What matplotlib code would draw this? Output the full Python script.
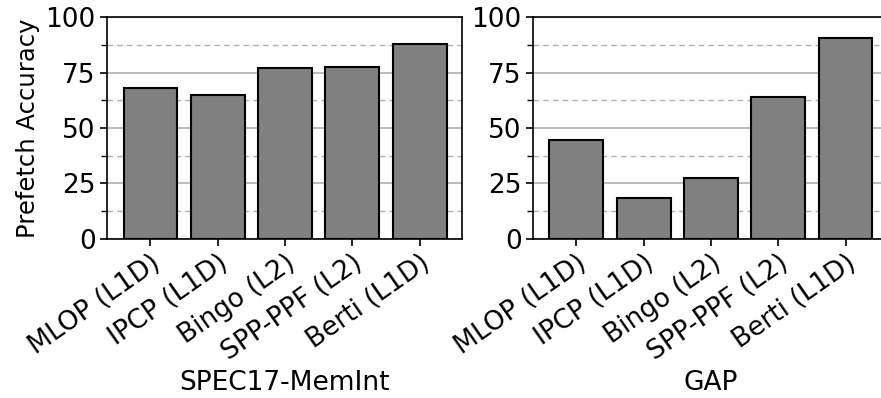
import matplotlib
matplotlib.use("Agg")
import matplotlib.pyplot as plt
from matplotlib.ticker import MultipleLocator

# prefetcher accuracy per suite
prefetchers = ["MLOP (L1D)", "IPCP (L1D)", "Bingo (L2)", "SPP-PPF (L2)", "Berti (L1D)"]
spec_accuracy = [67.9, 64.8, 77.0, 77.4, 87.9]
gap_accuracy = [44.7, 18.5, 27.6, 64.0, 90.6]
suites = ["SPEC17-MemInt", "GAP"]

plt.rcParams["font.family"] = "DejaVu Sans"
plt.rcParams["font.size"] = 19

fig = plt.figure(figsize=(8.81, 3.98), dpi=100)
ax_left = fig.add_axes([0.1211, 0.4003, 0.4033, 0.5563])
ax_right = fig.add_axes([0.6046, 0.4003, 0.4033, 0.5563])

for ax, vals, name in [(ax_left, spec_accuracy, suites[0]),
                       (ax_right, gap_accuracy, suites[1])]:
    x = range(len(prefetchers))
    ax.bar(x, vals, width=0.8, color="#808080", edgecolor="black",
           linewidth=1.5, zorder=3)
    ax.set_xlim(-0.65, 4.63)
    ax.set_ylim(0, 100)
    ax.yaxis.set_major_locator(MultipleLocator(25))
    ax.yaxis.set_minor_locator(MultipleLocator(12.5))
    ax.grid(axis="y", which="major", color="#b0b0b0", linestyle="-",
            linewidth=1.2, zorder=0)
    ax.grid(axis="y", which="minor", color="#b0b0b0", linestyle="--",
            linewidth=1.0, dashes=(4, 3), zorder=0)
    ax.set_xticks(list(x))
    ax.set_xticklabels(prefetchers, rotation=35, ha="right",
                       rotation_mode="anchor")
    ax.tick_params(axis="both", which="major", length=5, width=1.2, pad=3)
    ax.tick_params(axis="y", which="minor", length=4, width=1.0)
    ax.set_xlabel(name, labelpad=3)
    for sp in ax.spines.values():
        sp.set_linewidth(1.2)

ax_left.set_ylabel("Prefetch Accuracy", fontsize=17.5, labelpad=4)

fig.savefig("out.png", dpi=100)
